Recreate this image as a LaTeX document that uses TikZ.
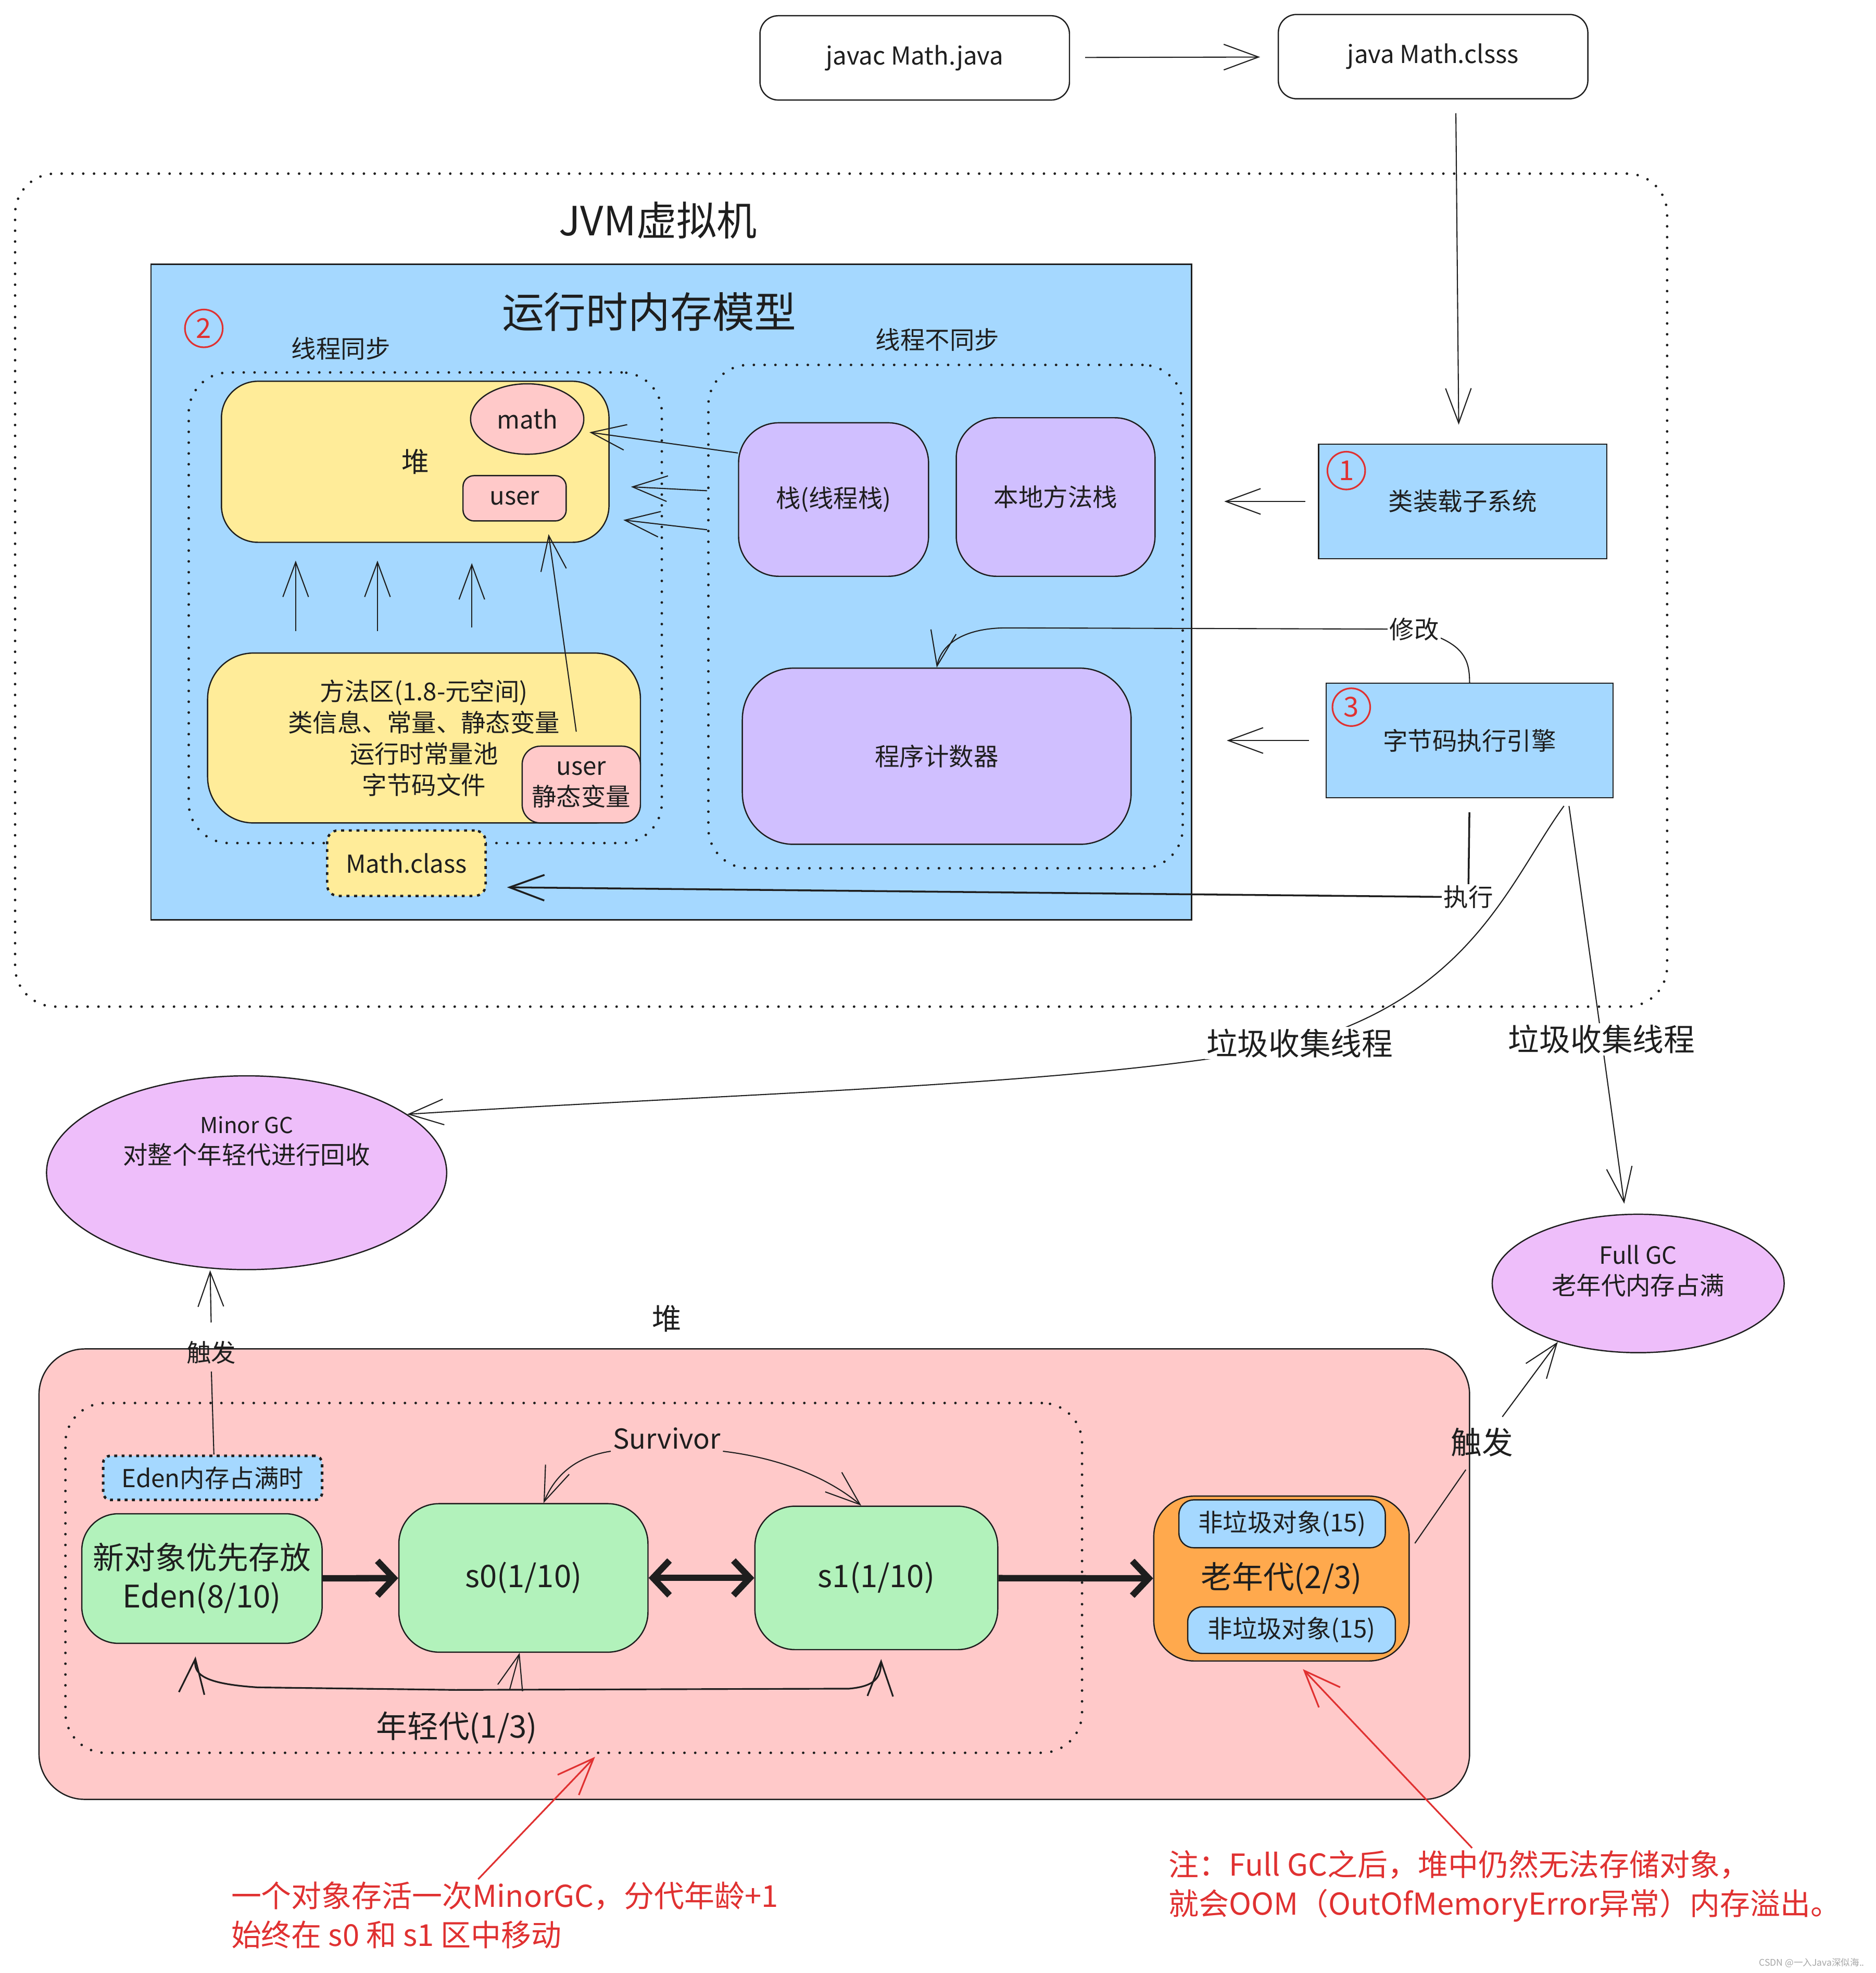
\documentclass[tikz,border=0pt]{standalone}
\usepackage{fontspec}
\setmainfont{Noto Sans CJK SC}
\usetikzlibrary{arrows.meta, positioning, shapes.geometric}
\newlength{\px}
\setlength{\px}{0.02417cm}
\newcommand{\sz}[2]{\fontsize{#1}{#2}\selectfont}
\definecolor{ink}{HTML}{1E1E1E}
\definecolor{skyfill}{HTML}{A5D8FF}
\definecolor{sandfill}{HTML}{FFEC99}
\definecolor{rosefill}{HTML}{FFC9C9}
\definecolor{lilacfill}{HTML}{D0BFFF}
\definecolor{orchidfill}{HTML}{EEBEFA}
\definecolor{mintfill}{HTML}{B2F2BB}
\definecolor{amberfill}{HTML}{FFA94D}
\definecolor{notered}{HTML}{E03131}
\tikzstyle{area}=[draw=ink, line width=.7pt, inner sep=0pt, align=center, text=ink, font=\sz{13.5}{17}]
\tikzstyle{dotframe}=[draw=ink, line width=1.4pt, dash pattern=on 0pt off 5.9pt, line cap=round, rounded corners=22pt, inner sep=0pt]
\tikzstyle{txt}=[inner sep=1pt, text=ink, align=center, font=\sz{13.5}{17}]
\tikzstyle{num}=[circle, draw=notered, text=notered, line width=.9pt, minimum size=30\px, inner sep=0pt, font=\sz{15}{15}]
\tikzstyle{arr}=[draw=ink, line width=.6pt, -{Straight Barb[length=19pt, width=14pt]}]
\tikzstyle{fatarr}=[draw=ink, line width=3.5pt, -{Straight Barb[length=9pt, width=19pt]}]
\tikzstyle{fatboth}=[draw=ink, line width=3.5pt, {Straight Barb[length=9pt, width=19pt]}-{Straight Barb[length=9pt, width=19pt]}]
\tikzstyle{redarr}=[draw=notered, line width=.9pt, -{Straight Barb[length=20pt, width=16pt]}]

\begin{document}
\begin{tikzpicture}[x=\px, y=-\px]
  \useasboundingbox[fill=white] (0,0) rectangle (1491,1568);
  % javac -> java
  \node[area, rounded corners=10pt, minimum width=246\px, minimum height=67\px] (javac) at (727,46) {javac Math.java};
  \node[area, rounded corners=10pt, minimum width=246\px, minimum height=67\px] (javarun) at (1139,45) {java Math.clsss};
  \draw[arr, shorten <=12\px, shorten >=14\px] (javac) -- (javarun);

  % JVM
  \node[dotframe, minimum width=1313\px, minimum height=662\px] (jvm) at (668.5,469) {};
  \node[txt, font=\sz{22}{22}] (jvmtitle) at (523,175) {JVM虚拟机};

  \node[area, fill=skyfill, minimum width=827\px, minimum height=521\px] (runtime) at (533.5,470.5) {};
  \node[txt, font=\sz{23}{23}] (rttitle) at (516,248) {运行时内存模型};
  \node[num] (n2) at (162,261) {2};
  \node[txt] (synctitle) at (271,277) {线程同步};
  \node[txt] (asynctitle) at (745,270) {线程不同步};
  \node[dotframe, minimum width=376\px, minimum height=374\px] (sync) at (338,483) {};
  \node[dotframe, minimum width=377\px, minimum height=400\px] (async) at (751.5,490) {};

  % thread shared
  \node[area, fill=sandfill, rounded corners=20pt, minimum width=308\px, minimum height=128\px, font=\sz{15}{15}] (heap) at (330,367) {堆};
  \node[area, ellipse, fill=rosefill, minimum width=90\px, minimum height=56\px] (math) at (419,333) {math};
  \node[area, fill=rosefill, rounded corners=6pt, minimum width=82\px, minimum height=36\px] (heapuser) at (409,396) {user};
  \node[area, fill=sandfill, rounded corners=25pt, minimum width=344\px, minimum height=135\px] (method) at (337,586.5) {方法区(1.8-元空间)\\类信息、常量、静态变量\\运行时常量池\\字节码文件};
  \node[area, fill=rosefill, rounded corners=10pt, minimum width=94\px, minimum height=61\px] (staticuser) at (462,623.5) {user\\静态变量};
  \node[area, fill=sandfill, line width=1.3pt, dash pattern=on 1.6pt off 2.6pt, rounded corners=6pt, minimum width=126\px, minimum height=52\px] (mathclass) at (323,686) {Math.class};
  \draw[arr, shorten <=17\px, shorten >=14\px] (method.north -| 235,0) -- (heap.south -| 235,0);
  \draw[arr, shorten <=17\px, shorten >=14\px] (method.north -| 300,0) -- (heap.south -| 300,0);
  \draw[arr, shorten <=20\px, shorten >=16\px] (method.north -| 375,0) -- (heap.south -| 375,0);
  \draw[arr] ([xshift=-4\px, yshift=11\px]staticuser.north) -- ([xshift=27\px, yshift=-10\px]heapuser.south);

  % thread private
  \node[area, fill=lilacfill, rounded corners=22pt, minimum width=151\px, minimum height=122\px] (stack) at (662.5,397) {栈(线程栈)};
  \node[area, fill=lilacfill, rounded corners=22pt, minimum width=158\px, minimum height=126\px] (native) at (839,395) {本地方法栈};
  \node[area, fill=lilacfill, rounded corners=28pt, minimum width=309\px, minimum height=140\px] (pc) at (744.5,601) {程序计数器};
  \draw[arr, shorten >=4\px] ([yshift=37\px]stack.west) -- ([yshift=-10\px]math.east);
  \draw[arr, shorten >=17\px] ([yshift=100\px]async.west) -- ([yshift=-19\px]heap.east);
  \draw[arr, shorten >=11\px] ([yshift=69\px]async.west) -- ([yshift=-45\px]heap.east);

  % subsystems
  \node[area, fill=skyfill, minimum width=229\px, minimum height=91\px] (loader) at (1162.5,398.5) {类装载子系统};
  \node[num] (n1) at (1070,374) {1};
  \node[area, fill=skyfill, minimum width=228\px, minimum height=91\px] (engine) at (1168,588.5) {字节码执行引擎};
  \node[num] (n3) at (1074,562) {3};
  \draw[arr, shorten <=11\px, shorten >=15\px] ([xshift=18\px]javarun.south) -- ([xshift=-3\px]loader.north);
  \draw[arr, shorten <=10\px, shorten >=32\px] (loader.west) -- (loader.west -| async.east);
  \draw[arr, shorten <=13\px, shorten >=34\px] (engine.west) -- (engine.west -| async.east);
  \draw[arr] (engine.north) .. controls (1168,522) and (1162,510) .. (1124,500) node[txt, fill=white] {修改}
    -- (800,499) .. controls (766,499) and (748,512) .. (pc.north);
  \draw[arr, line width=1pt, shorten <=11\px, shorten >=16\px] (engine.south) -- (1167,713) node[txt, fill=white] {执行}
    -- ([yshift=-19\px]mathclass.east);

  % GC
  \node[area, ellipse, fill=orchidfill, minimum width=318\px, minimum height=154\px] (minor) at (196,932) {};
  \node[txt] (minortext) at (196,907) {{\sz{12}{17}Minor GC}\\对整个年轻代进行回收};
  \node[area, ellipse, fill=orchidfill, minimum width=232\px, minimum height=110\px] (full) at (1302,1020) {};
  \node[txt] (fulltext) at (1302,1010) {{\sz{13}{17}Full GC}\\老年代内存占满};
  \draw[arr] ([xshift=75\px, yshift=-6\px]engine.south) .. controls (1200,700) and (1170,790) .. (1033,829)
    node[txt, fill=white, font=\sz{17}{17}] {垃圾收集线程}
    .. controls (880,862) and (600,868) .. (minor.20);
  \draw[arr, shorten >=8\px] ([xshift=79\px, yshift=-6\px]engine.south) -- (1273,826)
    node[txt, fill=white, font=\sz{17}{17}] {垃圾收集线程} -- ([xshift=-10\px]full.north);

  % heap generations
  \node[txt, font=\sz{16}{16}] (heapbigtitle) at (530,1048) {堆};
  \node[area, fill=rosefill, rounded corners=25pt, minimum width=1137\px, minimum height=358\px] (heapbig) at (599.5,1251) {};
  \node[dotframe, minimum width=808\px, minimum height=278\px] (young) at (456,1254) {};
  \node[txt, font=\sz{17}{17}] (youngtitle) at (363,1373) {年轻代(1/3)};
  \node[area, fill=skyfill, line width=1.4pt, dash pattern=on 1.6pt off 2.4pt, rounded corners=4pt, minimum width=174\px, minimum height=35\px] (edenfull) at (169,1174.5) {Eden内存占满时};
  \draw[arr, shorten <=9\px] ([xshift=1\px]edenfull.north) -- (168,1090) (168,1060) -- (minor.south -| 167,0);
  \node[txt] (trig1) at (168,1075) {触发};

  \node[area, fill=mintfill, rounded corners=20pt, minimum width=191\px, minimum height=103\px, font=\sz{17}{21}] (eden) at (160.5,1254.5) {新对象优先存放\\Eden(8/10)};
  \node[area, fill=mintfill, rounded corners=22pt, minimum width=198\px, minimum height=118\px, font=\sz{17}{17}] (s0) at (416,1254) {s0(1/10)};
  \node[area, fill=mintfill, rounded corners=22pt, minimum width=193\px, minimum height=114\px, font=\sz{17}{17}] (s1) at (696.5,1254) {s1(1/10)};
  \node[area, fill=amberfill, rounded corners=22pt, minimum width=203\px, minimum height=131\px, font=\sz{17}{17}] (old) at (1018.5,1254.5) {老年代(2/3)};
  \node[area, fill=skyfill, rounded corners=8pt, minimum width=164\px, minimum height=38\px] (obj1) at (1019,1211) {非垃圾对象(15)};
  \node[area, fill=skyfill, rounded corners=8pt, minimum width=165\px, minimum height=37\px] (obj2) at (1026.5,1295.5) {非垃圾对象(15)};
  \draw[fatarr] (eden) -- (s0);
  \draw[fatboth] (s0) -- (s1);
  \draw[fatarr] (s1) -- (old);

  \node[txt, font=\sz{15}{15}] (surv) at (530,1143) {Survivor};
  \draw[arr] (surv.south west) .. controls (455,1158) and (440,1175) .. ([xshift=16\px]s0.north);
  \draw[arr] (surv.south east) .. controls (630,1160) and (665,1180) .. ([xshift=-12\px]s1.north);
  \coordinate (loopmid) at (362,1343);
  \draw[arr, line width=.9pt, shorten >=10\px] (loopmid) -- (205,1341) .. controls (160,1338) and (154,1330) .. ([xshift=-4\px]eden.south);
  \draw[arr, line width=.9pt, shorten >=7\px] (loopmid) -- (675,1342) .. controls (697,1340) and (700,1332) .. ([xshift=4\px]s1.south);
  \draw[arr] (loopmid -| 405,0) -- ([xshift=-3\px]s0.south);

  \draw[arr] ([xshift=4\px, yshift=28\px]old.east) -- (1165,1168) (1194,1126) -- (full.216);
  \node[txt, font=\sz{17}{17}] (trig2) at (1178,1146) {触发};

  % notes
  \node[txt, text=notered, align=left, anchor=west, font=\sz{16.5}{21.5}] (note1) at (182,1522) {一个对象存活一次MinorGC，分代年龄+1\\始终在 s0 和 s1 区中移动};
  \node[txt, text=notered, align=left, anchor=west, font=\sz{16.5}{21.5}] (note2) at (927,1499) {注：Full GC之后，堆中仍然无法存储对象，\\就会OOM（OutOfMemoryError异常）内存溢出。};
  \draw[redarr, shorten >=3\px] (note1.north -| 380,0) -- (young.south -| 475,0);
  \draw[redarr] (note2.north -| 1170,0) -- ([xshift=17\px, yshift=-6\px]old.south);
  \node[text=gray!70, font=\sz{5}{5}, inner sep=0pt] (mark) at (1440,1560) {CSDN @一入Java深似海..};
\end{tikzpicture}
\end{document}
